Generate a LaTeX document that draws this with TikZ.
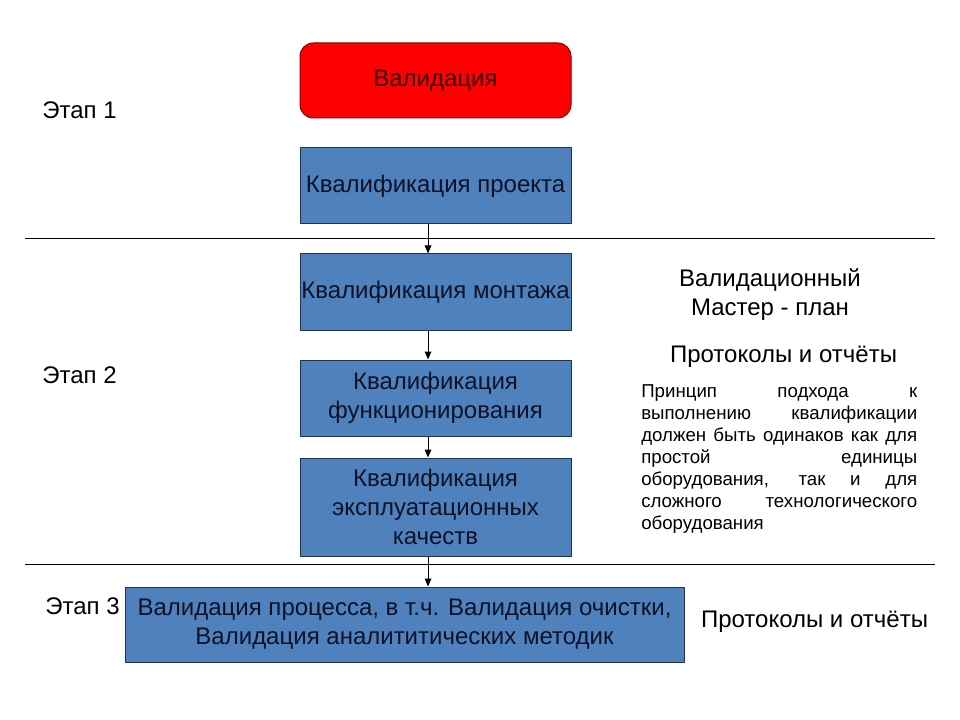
\documentclass[tikz,border=0pt]{standalone}
\usepackage{fontspec}
\setmainfont{Liberation Sans}
\usepackage{xcolor}
\usetikzlibrary{arrows.meta}
\definecolor{boxblue}{HTML}{4F81BD}
\definecolor{boxline}{HTML}{1F3550}
\definecolor{valred}{HTML}{FF0000}
\definecolor{redline}{HTML}{7A0000}
\definecolor{boxtext}{HTML}{0D1226}

\begin{document}
\begin{tikzpicture}[x=0.75pt, y=-0.75pt,
    stage/.style={draw=boxline, line width=0.75pt, fill=boxblue, text=boxtext,
      minimum width=203.25pt, minimum height=57pt, align=center,
      inner xsep=0pt, inner ysep=2pt,
      font=\fontsize{18}{21.75}\selectfont},
    arr/.style={-{Triangle[length=6pt,width=5pt]}, line width=0.75pt},
    lbl/.style={font=\fontsize{18}{21.75}\selectfont, align=center}]
    
    \useasboundingbox (0,0) rectangle (960,720);
    
    % boxes
    \node[stage, fill=valred, draw=redline, text=black!80!red, rounded corners=10pt,
      minimum height=56.25pt] (val) at (435.5,80.5) {Валидация};
    \node[stage] (kp) at (435.5,186) {Квалификация проекта};
    \node[stage] (km) at (435.5,292) {Квалификация монтажа};
    \node[stage] (kf) at (435.5,398) {Квалификация\\функционирования};
    \node[stage, minimum height=73.5pt] (ke) at (435.5,507)
      {Квалификация\\эксплуатационных\\качеств};
    \node[stage, minimum width=419.25pt, minimum height=56.25pt] (vp) at (404.5,624.5)
      {Валидация процесса, в т.ч. Валидация очистки,\\Валидация аналититических методик};
    
    % separators
    \coordinate (s1a) at (25,239);
    \coordinate (s1b) at (935,239);
    \coordinate (s2a) at (25,564);
    \coordinate (s2b) at (935,564);
    \draw[line width=0.75pt] (s1a) -- (s1b);
    \draw[line width=0.75pt] (s2a) -- (s2b);
    
    % arrows
    \foreach \a/\b in {kp/km, km/kf, kf/ke}{
        \draw[arr] ([xshift=-5.6pt]\a.south) -- ([xshift=-5.6pt]\b.north);
    }
    \draw[arr] ([xshift=-5.6pt]ke.south) -- ([xshift=-5.6pt]ke.south |- vp.north);
    
    % stages
    \foreach \n/\x/\y/\t in {
        e1/42/110/Этап 1,
        e2/42/375/Этап 2,
        e3/45/606/Этап 3
    }{
        \node[lbl, anchor=west, inner sep=0pt] (\n) at (\x,\y) {\t};
    }
    
    % notes
    \node[lbl] (mp) at (770,295) {Валидационный\\Мастер - план};
    \node[lbl] (pr1) at (783.5,357) {Протоколы и отчёты};
    \node[lbl] (pr2) at (814.5,622) {Протоколы и отчёты};
    \node[anchor=north west, text width=207pt, align=justify, inner sep=0pt,
      font=\fontsize{14}{16.5}\selectfont] (txt) at (641,384)
      {Принцип подхода к\linebreak
       выполнению квалификации\linebreak
       должен быть одинаков как для\linebreak
       простой единицы\linebreak
       оборудования, так и для\linebreak
       сложного технологического\linebreak
       оборудования};
\end{tikzpicture}
\end{document}
